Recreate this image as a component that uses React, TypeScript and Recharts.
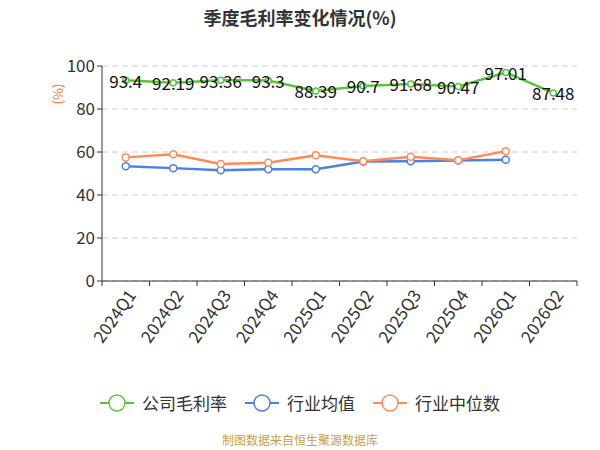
import React from "react";
import {
  LineChart,
  Line,
  XAxis,
  YAxis,
  CartesianGrid,
  LabelList,
} from "recharts";

const quarters = [
  "2024Q1",
  "2024Q2",
  "2024Q3",
  "2024Q4",
  "2025Q1",
  "2025Q2",
  "2025Q3",
  "2025Q4",
  "2026Q1",
  "2026Q2",
];
const companyMargin = [93.4, 92.19, 93.36, 93.3, 88.39, 90.7, 91.68, 90.47, 97.01, 87.48];
const industryMean = [53.4, 52.5, 51.5, 52.0, 52.0, 55.6, 55.7, 56.0, 56.4];
const industryMedian = [57.5, 58.9, 54.4, 55.0, 58.5, 55.7, 57.8, 56.2, 60.4];
const yTicks = [0, 20, 40, 60, 80, 100];

const series = [
  { key: "company", name: "公司毛利率", color: "#5CC43A" },
  { key: "mean", name: "行业均值", color: "#4C80E4" },
  { key: "median", name: "行业中位数", color: "#FF8A57" },
];

const data = quarters.map((q, i) => ({
  q,
  company: companyMargin[i],
  mean: industryMean[i],
  median: industryMedian[i],
}));

const font = "'Noto Sans CJK SC', 'Noto Sans', sans-serif";
const halfBand = (577 - 102) / quarters.length / 2;

function XTick(props: any) {
  const { x, y, payload } = props;
  const isLast = payload.value === quarters[quarters.length - 1];
  const tx = x + 5;
  const ty = y + 10;
  return (
    <g>
      <line x1={x - halfBand} y1={y} x2={x - halfBand} y2={y + 5} stroke="#333" />
      {isLast && (
        <line x1={x + halfBand} y1={y} x2={x + halfBand} y2={y + 5} stroke="#333" />
      )}
      <text
        x={tx}
        y={ty}
        transform={`rotate(-55, ${tx}, ${ty})`}
        textAnchor="end"
        dominantBaseline="central"
        fontSize={17}
        fill="#333"
        fontFamily={font}
      >
        {payload.value}
      </text>
    </g>
  );
}

function ValueLabel(props: any) {
  const { x, y, value } = props;
  return (
    <text
      x={x}
      y={y}
      textAnchor="middle"
      dominantBaseline="central"
      fontSize={17}
      fill="#111"
      fontFamily={font}
    >
      {value}
    </text>
  );
}

function LegendIcon({ color }: { color: string }) {
  return (
    <svg width={34} height={20} style={{ verticalAlign: "middle" }}>
      <line x1={0} y1={10} x2={34} y2={10} stroke={color} strokeWidth={2} />
      <circle cx={17} cy={10} r={8} fill="#fff" stroke={color} strokeWidth={1.5} />
    </svg>
  );
}

export default function App() {
  return (
    <div
      style={{
        position: "absolute",
        left: 0,
        top: 0,
        width: 600,
        height: 450,
        background: "#fff",
        fontFamily: font,
      }}
    >
      <div
        style={{
          position: "absolute",
          top: 4,
          left: 0,
          width: 600,
          textAlign: "center",
          fontSize: 18,
          fontWeight: "bold",
          color: "#333",
        }}
      >
        季度毛利率变化情况(%)
      </div>
      <div
        style={{
          position: "absolute",
          left: 46,
          top: 84,
          width: 24,
          height: 20,
          transform: "rotate(-90deg)",
          fontSize: 13,
          color: "#F07030",
          textAlign: "center",
        }}
      >
        (%)
      </div>
      <LineChart
        width={600}
        height={450}
        data={data}
        margin={{ top: 66, right: 23, bottom: 89, left: 0 }}
      >
        <CartesianGrid vertical={false} stroke="#ccc" strokeDasharray="6 4" />
        <XAxis
          dataKey="q"
          interval={0}
          height={80}
          padding={{ left: halfBand, right: halfBand }}
          tick={<XTick />}
          tickLine={false}
          tickSize={0}
          tickMargin={0}
          axisLine={{ stroke: "#333" }}
        />
        <YAxis
          width={102}
          domain={[0, 100]}
          ticks={yTicks}
          tickSize={5}
          axisLine={{ stroke: "#333" }}
          tickLine={{ stroke: "#333" }}
          tick={{ fontSize: 17, fill: "#333", fontFamily: font }}
        />
        <Line
          dataKey="mean"
          stroke="#4C80E4"
          strokeWidth={2.5}
          dot={{ r: 3.5, fill: "#fff", stroke: "#4C80E4", strokeWidth: 1.5 }}
          isAnimationActive={false}
        />
        <Line
          dataKey="median"
          stroke="#FF8A57"
          strokeWidth={2.5}
          dot={{ r: 3.5, fill: "#fff", stroke: "#FF8A57", strokeWidth: 1.5 }}
          isAnimationActive={false}
        />
        <Line
          dataKey="company"
          stroke="#5CC43A"
          strokeWidth={2.5}
          dot={{ r: 3, fill: "#fff", stroke: "#5CC43A", strokeWidth: 1.5 }}
          isAnimationActive={false}
        >
          <LabelList dataKey="company" content={<ValueLabel />} />
        </Line>
      </LineChart>
      <div
        style={{
          position: "absolute",
          top: 390,
          left: 0,
          width: 600,
          display: "flex",
          justifyContent: "center",
          gap: 18,
          fontSize: 17,
          color: "#333",
        }}
      >
        {series.map((s) => (
          <div key={s.key} style={{ display: "flex", alignItems: "center", gap: 8 }}>
            <LegendIcon color={s.color} />
            <span>{s.name}</span>
          </div>
        ))}
      </div>
      <div
        style={{
          position: "absolute",
          top: 431,
          left: 0,
          width: 600,
          textAlign: "center",
          fontSize: 12,
          color: "#C9A04A",
        }}
      >
        制图数据来自恒生聚源数据库
      </div>
    </div>
  );
}
